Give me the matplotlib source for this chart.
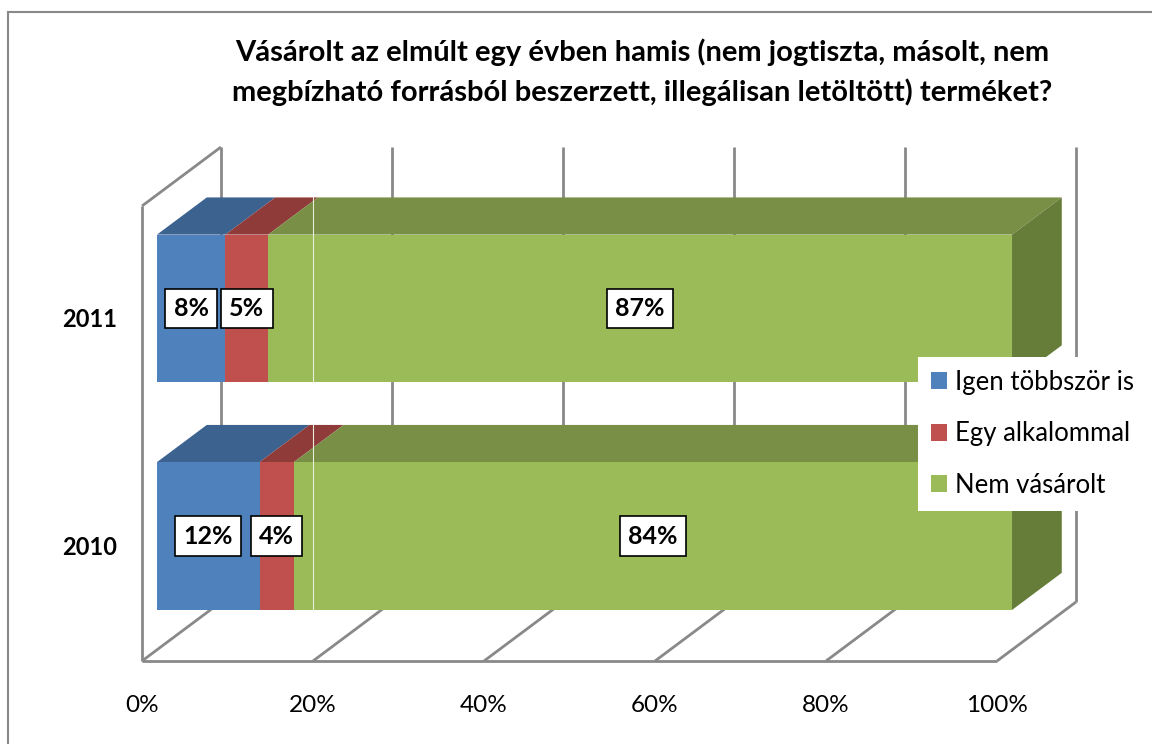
import matplotlib.pyplot as plt
from matplotlib.patches import Polygon, Patch
from matplotlib.lines import Line2D

plt.rcParams['font.family'] = ['Lato', 'DejaVu Sans']

# data
years = ['2010', '2011']
series = ['Igen többször is', 'Egy alkalommal', 'Nem vásárolt']
igen = [12, 8]
egy = [4, 5]
nem = [84, 87]
ticks = [0, 20, 40, 60, 80, 100]
title = ('Vásárolt az elmúlt egy évben hamis (nem jogtiszta, másolt, nem\n'
         'megbízható forrásból beszerzett, illegálisan letöltött) terméket?')

front_c = ['#4F81BD', '#C0504D', '#9BBB59']
top_c = ['#3C6290', '#8F3B39', '#788F45']
side_c = ['#2F4D72', '#6F2E2C', '#667D3A']
grid_c = '#898989'

W, H = 1152, 744
fig = plt.figure(figsize=(W / 100, H / 100), dpi=100)
ax = fig.add_axes([0, 0, 1, 1])

# geometry of the fake 3D box (pixels)
X0, PX = 142, 8.55     # x pixel of 0 %, pixels per percent
Y0, PY = 661, 227.5    # y pixel of front floor edge, pixels per category
DX, DY = 79, 59        # depth offset of the back wall
ax.set_xlim(-X0 / PX, (W - X0) / PX)
ax.set_ylim((Y0 - H) / PY, Y0 / PY)
ax.axis('off')
ddx, ddy = DX / PX, DY / PY


def P(v, c, d):
    return (v + d * ddx, c + d * ddy)


ncat = len(years)
lw = 2.0

# walls and floor
def seg(a, b, **kw):
    ax.plot([a[0], b[0]], [a[1], b[1]], color=grid_c, lw=lw,
            solid_capstyle='butt', zorder=1, **kw)

seg(P(0, 0, 0), P(0, ncat, 0))
seg(P(0, ncat, 0), P(0, ncat, 1))
seg(P(0, 0, 0), P(100, 0, 0))
for t in ticks:
    seg(P(t, 0, 0), P(t, 0, 1))
    seg(P(t, 0, 1), P(t, ncat, 1))

# bars
h, d0, d1 = 0.325, 0.19, 0.82
for i in range(ncat - 1, -1, -1):
    c = i + 0.5
    vals = [igen[i], egy[i], nem[i]]
    left = 0
    spans = []
    for v in vals:
        spans.append((left, left + v))
        left += v
    for j, (l, r) in enumerate(spans):
        ax.add_patch(Polygon([P(l, c + h, d0), P(r, c + h, d0),
                              P(r, c + h, d1), P(l, c + h, d1)],
                             closed=True, fc=top_c[j], ec='none', zorder=2))
    l, r = spans[-1]
    ax.add_patch(Polygon([P(r, c - h, d0), P(r, c - h, d1),
                          P(r, c + h, d1), P(r, c + h, d0)],
                         closed=True, fc=side_c[-1], ec='none', zorder=2))
    for j, (l, r) in enumerate(spans):
        ax.add_patch(Polygon([P(l, c - h, d0), P(r, c - h, d0),
                              P(r, c + h, d0), P(l, c + h, d0)],
                             closed=True, fc=front_c[j], ec='none', zorder=3))
    # faint front gridline artefact at 20 %
    ax.plot([20, 20], [c - h + d0 * ddy, c + h + d1 * ddy], color='#E6EDD8',
            lw=0.8, zorder=4)
    for j, (l, r) in enumerate(spans):
        x, y = P((l + r) / 2, c, d0)
        ax.text(x, y, f'{vals[j]}%', ha='center', va='center', fontsize=18,
                fontweight='bold', zorder=5,
                bbox=dict(boxstyle='square,pad=0.33', fc='white', ec='black',
                          lw=1.2))
    ax.text(-25 / PX, c, years[i], ha='right', va='center', fontsize=17,
            fontweight='bold')

for t in ticks:
    ax.text(t, -44 / PY, f'{t}%', ha='center', va='center', fontsize=17.5)

fig.text(642 / W, 1 - 72 / H, title, ha='center', va='center', fontsize=21,
         fontweight='bold', linespacing=1.55)

# chart border
fig.add_artist(Line2D([8 / W, 8 / W], [0, 1 - 12 / H], color=grid_c, lw=1.5))
fig.add_artist(Line2D([8 / W, 1], [1 - 12 / H, 1 - 12 / H], color=grid_c, lw=1.5))

handles = [Patch(fc=front_c[j], ec='none', label=series[j]) for j in range(3)]
leg = fig.legend(handles=handles, loc='upper left',
                 bbox_to_anchor=(918 / W, 1 - 357 / H), fontsize=18.5,
                 frameon=True, fancybox=False, borderaxespad=0,
                 handlelength=0.62, handleheight=0.62, handletextpad=0.32,
                 labelspacing=1.03, borderpad=0.5)
leg.get_frame().set_edgecolor('none')
leg.get_frame().set_facecolor('white')
leg.get_frame().set_alpha(1)
leg.set_zorder(10)

fig.savefig('out.png', dpi=100)
